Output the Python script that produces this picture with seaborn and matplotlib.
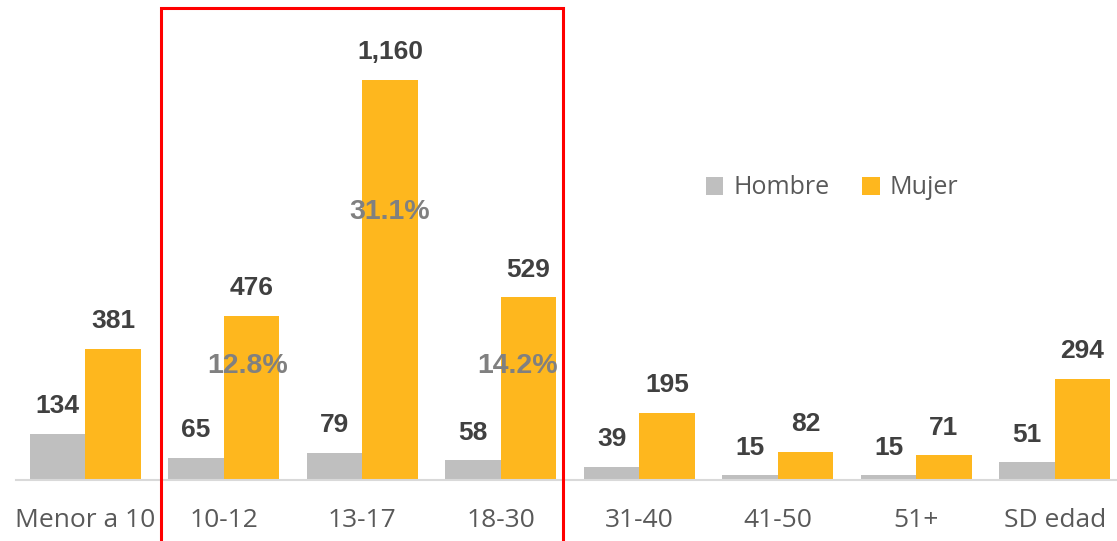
import matplotlib
matplotlib.use("Agg")
from matplotlib import pyplot as plt
from matplotlib.patches import Rectangle
import pandas as pd
import seaborn as sns


GRUPOS = ["Menor a 10", "10-12", "13-17", "18-30", "31-40", "41-50", "51+", "SD edad"]
HOMBRE = [134, 65, 79, 58, 39, 15, 15, 51]
MUJER = [381, 476, 1160, 529, 195, 82, 71, 294]

PCT_GRUPOS = ["10-12", "13-17", "18-30"]
PCT_LABELS = ["12.8%", "31.1%", "14.2%"]
PCT_Y = [330, 777, 330]      # vertical placement of the percentage notes
PCT_DX = [0.17, 0.2, 0.12]   # horizontal offset from the group centre

COLORS = {"Hombre": "#BFBFBF", "Mujer": "#FEB71E"}


def main():
    df = pd.DataFrame({
        "grupo": GRUPOS * 2,
        "casos": HOMBRE + MUJER,
        "sexo": ["Hombre"] * len(GRUPOS) + ["Mujer"] * len(GRUPOS),
    })

    sns.set_theme(style="white")
    plt.rcParams["font.family"] = ["Open Sans", "DejaVu Sans"]

    fig = plt.figure(figsize=(11.17, 5.41), dpi=100)
    ax = fig.add_axes([0.0143, 0.1128, 0.992, 0.8872])

    sns.barplot(data=df, x="grupo", y="casos", hue="sexo", palette=COLORS,
                width=0.8, saturation=1, linewidth=0, ax=ax, order=GRUPOS)

    ax.set_xlim(-0.5, len(GRUPOS) - 0.5)
    ax.set_ylim(0, 1391)
    ax.set_xlabel("")
    ax.set_ylabel("")
    ax.set_yticks([])
    for side in ["top", "right", "left"]:
        ax.spines[side].set_visible(False)
    ax.spines["bottom"].set_color("#D9D9D9")
    ax.spines["bottom"].set_linewidth(1.5)
    ax.tick_params(axis="x", length=0, pad=20, labelsize=19, labelcolor="#595959")

    # value labels above bars
    for cont in ax.containers:
        ax.bar_label(cont, labels=[f"{v:,.0f}" for v in cont.datavalues], padding=11,
                     fontsize=19, fontweight="bold", color="#404040",
                     family="Liberation Sans")

    # percentage notes over the highlighted groups
    for g, txt, y, dx in zip(PCT_GRUPOS, PCT_LABELS, PCT_Y, PCT_DX):
        x = GRUPOS.index(g) + dx
        ax.text(x, y, txt, ha="center", va="center", fontsize=20.5, fontweight="bold",
                color="#808080", family="Liberation Sans")

    handles, labels = ax.get_legend_handles_labels()
    ax.legend(handles, labels, ncol=2, frameon=False, loc="center",
              bbox_to_anchor=(832 / 1117, 1 - 188 / 541), bbox_transform=fig.transFigure,
              fontsize=18, handlelength=0.7, handleheight=0.7, handletextpad=0.4,
              columnspacing=1.3, labelcolor="#595959")

    # red highlight box around 10-30
    fig.patches.append(Rectangle((161 / 1117, -0.05), (563 - 161) / 1117, 1 - 8 / 541 + 0.05,
                                 transform=fig.transFigure, fill=False,
                                 edgecolor="#FF0000", linewidth=2.2))

    fig.savefig("out.png", dpi=100)


if __name__ == "__main__":
    main()
